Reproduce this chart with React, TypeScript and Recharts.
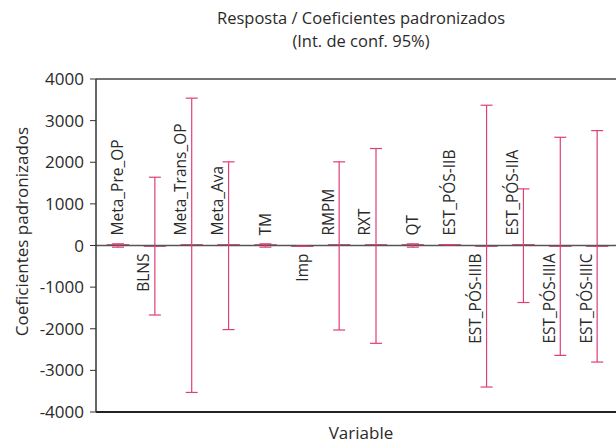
import React from 'react';
import { ComposedChart, Bar, ErrorBar, XAxis, YAxis, ReferenceLine, LabelList, Label } from 'recharts';

const variables = [
  'Meta_Pre_OP', 'BLNS', 'Meta_Trans_OP', 'Meta_Ava', 'TM', 'Imp', 'RMPM', 'RXT', 'QT',
  'EST_PÓS-IIB', 'EST_PÓS-IIIB', 'EST_PÓS-IIA', 'EST_PÓS-IIIA', 'EST_PÓS-IIIC',
];
const coefficients = [20, -20, 20, 20, 20, -20, 20, 20, 20, 20, -20, 20, -20, -20];
const ciLower = [-40, -1670, -3530, -2020, -40, -20, -2030, -2350, -40, 20, -3400, -1370, -2640, -2800];
const ciUpper = [40, 1640, 3540, 2010, 40, -20, 2010, 2330, 40, 20, 3370, 1360, 2600, 2760];
const yTicks = [-4000, -3000, -2000, -1000, 0, 1000, 2000, 3000, 4000];

const data = variables.map((name, i) => ({
  name,
  coef: coefficients[i],
  err: [coefficients[i] - ciLower[i], ciUpper[i] - coefficients[i]],
}));

const PINK = '#de3f78';
const FONT = '"Open Sans", "Noto Sans", sans-serif';
const TEXT = '#2a2a2a';

const renderVarLabel = (props: any) => {
  const { x, y, width, height, index } = props;
  const v = coefficients[index];
  const cx = Number(x) + Number(width) / 2;
  const y1 = Number(y);
  const y2 = Number(y) + Number(height);
  const top = Math.min(y1, y2);
  const bottom = Math.max(y1, y2);
  const zeroY = v >= 0 ? bottom : top;
  const big = ciUpper[index] - ciLower[index] > 400;
  const lx = cx + (big ? -11 : 0);
  const ly = v >= 0 ? zeroY - 10 : zeroY + 8;
  return (
    <text
      x={lx}
      y={ly}
      transform={`rotate(-90 ${lx} ${ly})`}
      textAnchor={v >= 0 ? 'start' : 'end'}
      dy="0.35em"
      fontSize={15.5}
      fill={TEXT}
      fontFamily={FONT}
    >
      {variables[index]}
    </text>
  );
};

const titleLine: React.CSSProperties = {
  position: 'absolute', left: 61, width: 600, textAlign: 'center',
  fontSize: 16.5, lineHeight: '22px', color: TEXT, whiteSpace: 'nowrap',
};

export default function App() {
  return (
    <div style={{ position: 'absolute', left: 0, top: 0, width: 616, height: 444, background: '#fff', fontFamily: FONT }}>
      <div style={{ ...titleLine, top: 7 }}>Resposta / Coeficientes padronizados</div>
      <div style={{ ...titleLine, top: 30 }}>(Int. de conf. 95%)</div>
      <ComposedChart width={616} height={444} margin={{ top: 79, right: 0, bottom: 0, left: 0 }} data={data}>
        <XAxis
          dataKey="name"
          tick={false}
          tickLine={false}
          axisLine={{ stroke: '#222', strokeWidth: 2 }}
          height={32}
          padding={{ left: 4, right: 0 }}
        >
          <Label
            content={(p: any) => (
              <text x={361} y={p.viewBox.y + 27} textAnchor="middle" fontSize={17} fill={TEXT} fontFamily={FONT}>
                Variable
              </text>
            )}
          />
        </XAxis>
        <YAxis
          domain={[-4000, 4000]}
          ticks={yTicks}
          width={96}
          tickSize={6}
          tickMargin={6}
          interval={0}
          axisLine={{ stroke: '#333', strokeWidth: 1.5 }}
          tickLine={{ stroke: '#333' }}
          tick={{ fontSize: 17, fill: TEXT, fontFamily: FONT }}
          allowDataOverflow
        >
          <Label
            content={(p: any) => {
              const cy = p.viewBox.y + p.viewBox.height / 2 - 14;
              return (
                <text x={22} y={cy} transform={`rotate(-90 22 ${cy})`} textAnchor="middle" dy="0.35em" fontSize={17} fill={TEXT} fontFamily={FONT}>
                  Coeficientes padronizados
                </text>
              );
            }}
          />
        </YAxis>
        <ReferenceLine y={4000} stroke="#444" strokeWidth={1.5} />
        <ReferenceLine y={0} stroke="#555" strokeWidth={1.5} />
        <Bar dataKey="coef" fill={PINK} stroke={PINK} strokeWidth={1} barSize={22} isAnimationActive={false}>
          <ErrorBar dataKey="err" width={6} stroke={PINK} strokeWidth={1.2} direction="y" />
          <LabelList dataKey="name" content={renderVarLabel} />
        </Bar>
      </ComposedChart>
    </div>
  );
}
